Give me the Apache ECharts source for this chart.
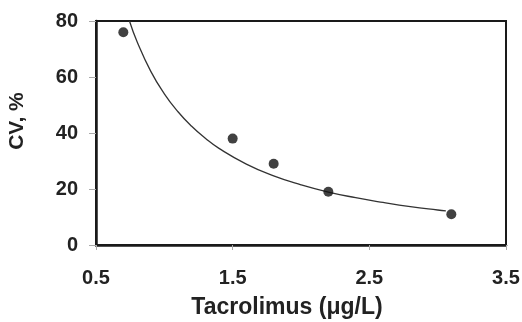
<!DOCTYPE html>
<html>
<head>
<meta charset="utf-8">
<script src="https://cdn.jsdelivr.net/npm/echarts@6/dist/echarts.min.js"></script>
<style>html,body{margin:0;padding:0;background:#fff;}#c{width:522px;height:322px;}</style>
</head>
<body>
<div id="c"></div>
<script>
// Observed data points
var tacrolimus = [0.7, 1.5, 1.8, 2.2, 3.1];
var cvPercent = [76, 38, 29, 19, 11];
// Fitted curve
var curveX = [0.745, 0.8, 0.9, 1.0, 1.1, 1.2, 1.3, 1.4, 1.6, 1.8, 2.0, 2.2, 2.4, 2.6, 2.8, 3.0, 3.06];
var curveY = [80, 72.7, 62.1, 54, 47.6, 42.4, 38.1, 34.5, 28.9, 24.7, 21.5, 18.9, 16.9, 15.2, 13.7, 12.5, 12.2];
// Tick labels
var xTicks = [0.5, 1.5, 2.5, 3.5];
var yTicks = [0, 20, 40, 60, 80];

var chart = echarts.init(document.getElementById('c'), null, {renderer: 'canvas'});
var font = 'Liberation Sans, Arial, sans-serif';
chart.setOption({
  animation: false,
  backgroundColor: '#fff',
  grid: {left: 96, right: 16, top: 21, bottom: 77, outerBoundsMode: 'none', containLabel: false,
    show: true, borderColor: '#1a1a1a', borderWidth: 2, backgroundColor: 'transparent'},
  xAxis: {
    type: 'value', min: 0.5, max: 3.5,
    name: 'Tacrolimus (μg/L)', nameLocation: 'middle', nameGap: 51,
    nameTextStyle: {fontFamily: font, fontWeight: 'bold', fontSize: 23, color: '#222', padding: [0, 28, 0, 0]},
    axisLine: {show: true, onZero: false, lineStyle: {color: '#1a1a1a', width: 2.5}},
    axisTick: {show: true, customValues: xTicks, length: 5, lineStyle: {color: '#aaa', width: 1}},
    axisLabel: {customValues: xTicks, margin: 23, fontFamily: font, fontWeight: 'bold', fontSize: 20, color: '#222',
      formatter: function (v) { return v.toFixed(1); }},
    splitLine: {show: false}
  },
  yAxis: {
    type: 'value', min: 0, max: 80, interval: 20,
    name: 'CV, %', nameLocation: 'middle', nameGap: 68,
    nameTextStyle: {fontFamily: font, fontWeight: 'bold', fontSize: 21, color: '#222', padding: [0, 0, 0, 24]},
    axisLine: {show: true, onZero: false, lineStyle: {color: '#1a1a1a', width: 2.5}},
    axisTick: {show: true, length: 7, lineStyle: {color: '#aaa', width: 1}},
    axisLabel: {margin: 18, fontFamily: font, fontWeight: 'bold', fontSize: 20, color: '#222'},
    splitLine: {show: false}
  },
  series: [
    {
      type: 'line', smooth: true, showSymbol: false,
      data: curveX.map(function (x, i) { return [x, curveY[i]]; }),
      lineStyle: {color: '#333', width: 1.3}, z: 2
    },
    {
      type: 'scatter', symbol: 'circle', symbolSize: 10,
      data: tacrolimus.map(function (x, i) { return [x, cvPercent[i]]; }),
      itemStyle: {color: '#111'}, z: 3
    }
  ]
});
</script>
</body>
</html>
